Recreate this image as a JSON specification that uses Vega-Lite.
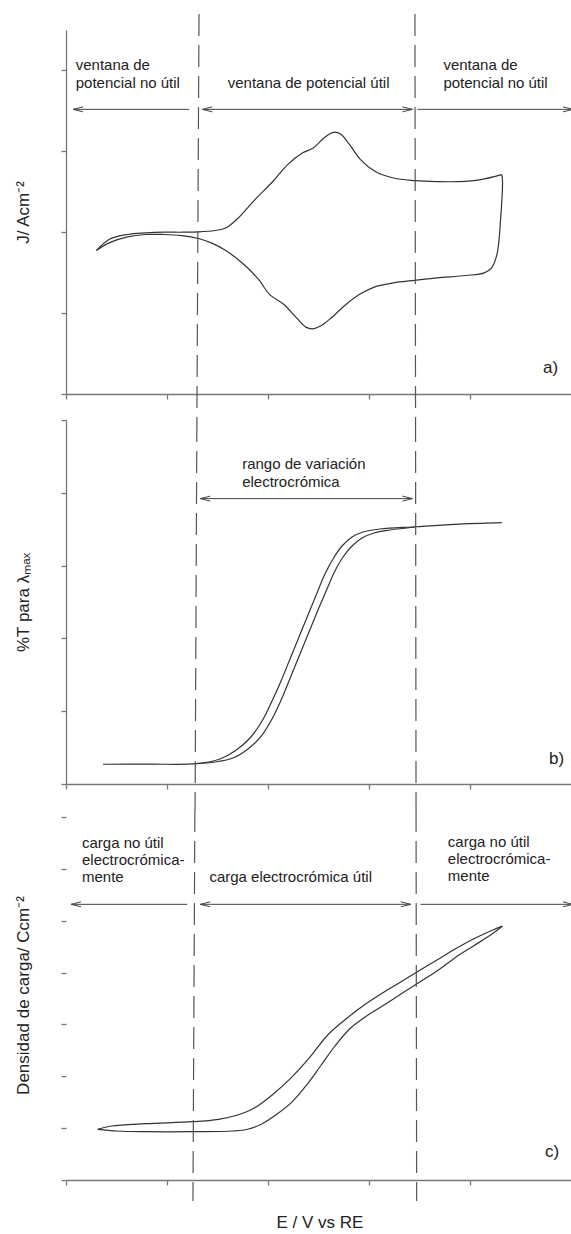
{
  "$schema": "https://vega.github.io/schema/vega-lite/v6.json",
  "padding": {"left": 14, "top": 13, "right": 0, "bottom": 0},
  "bounds": "flush",
  "spacing": 26,
  "config": {
    "view": {"stroke": null},
    "font": "Liberation Sans",
    "axis": {"labels": false, "grid": false, "tickSize": 5, "tickColor": "#777", "domainColor": "#777", "domainWidth": 1.3, "tickWidth": 1.3, "titleFont": "Liberation Sans", "titleFontSize": 17, "titleFontWeight": "normal", "titleColor": "#222"}
  },
  "datasets": {
    "curveA": [
      {"s":"u","o":1,"x":0.302,"y":1.774},{"s":"u","o":2,"x":0.426,"y":1.910},{"s":"u","o":3,"x":0.609,"y":1.972},{"s":"u","o":4,"x":0.789,"y":1.991},{"s":"u","o":5,"x":0.969,"y":2.000},{"s":"u","o":6,"x":1.149,"y":2.000},{"s":"u","o":7,"x":1.312,"y":2.004},{"s":"u","o":8,"x":1.474,"y":2.021},{"s":"u","o":9,"x":1.582,"y":2.053},{"s":"u","o":10,"x":1.690,"y":2.157},{"s":"u","o":11,"x":1.871,"y":2.404},{"s":"u","o":12,"x":2.050,"y":2.630},{"s":"u","o":13,"x":2.195,"y":2.836},{"s":"u","o":14,"x":2.340,"y":2.979},{"s":"u","o":15,"x":2.448,"y":3.041},{"s":"u","o":16,"x":2.554,"y":3.164},{"s":"u","o":17,"x":2.646,"y":3.235},{"s":"u","o":18,"x":2.718,"y":3.214},{"s":"u","o":19,"x":2.808,"y":3.083},{"s":"u","o":20,"x":2.916,"y":2.898},{"s":"u","o":21,"x":3.059,"y":2.753},{"s":"u","o":22,"x":3.241,"y":2.670},{"s":"u","o":23,"x":3.455,"y":2.638},{"s":"u","o":24,"x":3.673,"y":2.626},{"s":"u","o":25,"x":3.889,"y":2.626},{"s":"u","o":26,"x":4.106,"y":2.651},{"s":"u","o":27,"x":4.315,"y":2.712},
      {"s":"d","o":1,"x":4.315,"y":2.712},{"s":"d","o":2,"x":4.322,"y":2.630},{"s":"d","o":3,"x":4.304,"y":2.177},{"s":"d","o":4,"x":4.267,"y":1.725},{"s":"d","o":5,"x":4.214,"y":1.559},{"s":"d","o":6,"x":4.142,"y":1.498},{"s":"d","o":7,"x":3.960,"y":1.465},{"s":"d","o":8,"x":3.673,"y":1.436},{"s":"d","o":9,"x":3.455,"y":1.404},{"s":"d","o":10,"x":3.241,"y":1.374},{"s":"d","o":11,"x":3.059,"y":1.325},{"s":"d","o":12,"x":2.916,"y":1.238},{"s":"d","o":13,"x":2.772,"y":1.107},{"s":"d","o":14,"x":2.628,"y":0.942},{"s":"d","o":15,"x":2.520,"y":0.840},{"s":"d","o":16,"x":2.441,"y":0.806},{"s":"d","o":17,"x":2.375,"y":0.827},{"s":"d","o":18,"x":2.267,"y":0.963},{"s":"d","o":19,"x":2.158,"y":1.107},{"s":"d","o":20,"x":2.015,"y":1.231},{"s":"d","o":21,"x":1.907,"y":1.416},{"s":"d","o":22,"x":1.762,"y":1.601},{"s":"d","o":23,"x":1.582,"y":1.774},{"s":"d","o":24,"x":1.438,"y":1.868},{"s":"d","o":25,"x":1.312,"y":1.922},{"s":"d","o":26,"x":1.149,"y":1.959},{"s":"d","o":27,"x":0.969,"y":1.972},{"s":"d","o":28,"x":0.789,"y":1.972},{"s":"d","o":29,"x":0.609,"y":1.942},{"s":"d","o":30,"x":0.426,"y":1.868},{"s":"d","o":31,"x":0.302,"y":1.774}
    ],
    "curveB": [
      {"s":"L","o":1,"x":0.366,"y":0.271},{"s":"L","o":2,"x":0.832,"y":0.273},{"s":"L","o":3,"x":1.293,"y":0.279},{"s":"L","o":4,"x":1.525,"y":0.343},{"s":"L","o":5,"x":1.673,"y":0.453},{"s":"L","o":6,"x":1.822,"y":0.632},{"s":"L","o":7,"x":1.941,"y":0.865},{"s":"L","o":8,"x":2.040,"y":1.140},{"s":"L","o":9,"x":2.129,"y":1.415},{"s":"L","o":10,"x":2.218,"y":1.717},{"s":"L","o":11,"x":2.307,"y":2.019},{"s":"L","o":12,"x":2.396,"y":2.321},{"s":"L","o":13,"x":2.485,"y":2.624},{"s":"L","o":14,"x":2.564,"y":2.885},{"s":"L","o":15,"x":2.644,"y":3.091},{"s":"L","o":16,"x":2.733,"y":3.269},{"s":"L","o":17,"x":2.832,"y":3.393},{"s":"L","o":18,"x":2.941,"y":3.462},{"s":"L","o":19,"x":3.109,"y":3.503},{"s":"L","o":20,"x":3.455,"y":3.534},{"s":"L","o":21,"x":3.851,"y":3.567},{"s":"L","o":22,"x":4.315,"y":3.589},
      {"s":"R","o":1,"x":1.293,"y":0.279},{"s":"R","o":2,"x":1.475,"y":0.302},{"s":"R","o":3,"x":1.653,"y":0.357},{"s":"R","o":4,"x":1.802,"y":0.481},{"s":"R","o":5,"x":1.941,"y":0.673},{"s":"R","o":6,"x":2.050,"y":0.920},{"s":"R","o":7,"x":2.139,"y":1.181},{"s":"R","o":8,"x":2.228,"y":1.484},{"s":"R","o":9,"x":2.317,"y":1.786},{"s":"R","o":10,"x":2.406,"y":2.088},{"s":"R","o":11,"x":2.495,"y":2.390},{"s":"R","o":12,"x":2.584,"y":2.679},{"s":"R","o":13,"x":2.663,"y":2.926},{"s":"R","o":14,"x":2.743,"y":3.118},{"s":"R","o":15,"x":2.832,"y":3.269},{"s":"R","o":16,"x":2.931,"y":3.379},{"s":"R","o":17,"x":3.050,"y":3.448},{"s":"R","o":18,"x":3.208,"y":3.489},{"s":"R","o":19,"x":3.455,"y":3.530}
    ],
    "curveC": [
      {"s":"u","o":1,"x":0.314,"y":0.978},{"s":"u","o":2,"x":0.452,"y":1.041},{"s":"u","o":3,"x":0.789,"y":1.086},{"s":"u","o":4,"x":1.257,"y":1.124},{"s":"u","o":5,"x":1.510,"y":1.170},{"s":"u","o":6,"x":1.690,"y":1.248},{"s":"u","o":7,"x":1.870,"y":1.394},{"s":"u","o":8,"x":2.050,"y":1.653},{"s":"u","o":9,"x":2.231,"y":1.973},{"s":"u","o":10,"x":2.411,"y":2.358},{"s":"u","o":11,"x":2.591,"y":2.796},{"s":"u","o":12,"x":2.772,"y":3.105},{"s":"u","o":13,"x":2.952,"y":3.374},{"s":"u","o":14,"x":3.133,"y":3.606},{"s":"u","o":15,"x":3.313,"y":3.818},{"s":"u","o":16,"x":3.475,"y":4.011},{"s":"u","o":17,"x":3.673,"y":4.242},{"s":"u","o":18,"x":3.853,"y":4.454},{"s":"u","o":19,"x":4.034,"y":4.647},{"s":"u","o":20,"x":4.214,"y":4.811},{"s":"u","o":21,"x":4.320,"y":4.895},
      {"s":"d","o":1,"x":4.320,"y":4.895},{"s":"d","o":2,"x":4.214,"y":4.738},{"s":"d","o":3,"x":4.034,"y":4.512},{"s":"d","o":4,"x":3.853,"y":4.287},{"s":"d","o":5,"x":3.673,"y":4.030},{"s":"d","o":6,"x":3.475,"y":3.785},{"s":"d","o":7,"x":3.313,"y":3.581},{"s":"d","o":8,"x":3.133,"y":3.355},{"s":"d","o":9,"x":2.952,"y":3.130},{"s":"d","o":10,"x":2.808,"y":2.912},{"s":"d","o":11,"x":2.663,"y":2.584},{"s":"d","o":12,"x":2.520,"y":2.198},{"s":"d","o":13,"x":2.375,"y":1.813},{"s":"d","o":14,"x":2.231,"y":1.491},{"s":"d","o":15,"x":2.087,"y":1.267},{"s":"d","o":16,"x":1.943,"y":1.086},{"s":"d","o":17,"x":1.798,"y":0.978},{"s":"d","o":18,"x":1.654,"y":0.945},{"s":"d","o":19,"x":1.257,"y":0.931},{"s":"d","o":20,"x":0.789,"y":0.931},{"s":"d","o":21,"x":0.502,"y":0.945},{"s":"d","o":22,"x":0.314,"y":0.978}
    ],
    "dashes": [
      {"p":"a","x1":1.317,"x2":1.296,"y1":4.698,"y2":-0.321},
      {"p":"a","x1":3.455,"x2":3.461,"y1":4.698,"y2":-0.321},
      {"p":"b","x1":1.296,"x2":1.278,"y1":5,"y2":-0.357},
      {"p":"b","x1":3.461,"x2":3.466,"y1":5,"y2":-0.357},
      {"p":"c","x1":1.276,"x2":1.257,"y1":7.135,"y2":-0.405},
      {"p":"c","x1":3.466,"x2":3.472,"y1":7.135,"y2":-0.405}
    ],
    "arrows": [
      {"p":"a","x1":0.07,"x2":1.22,"y":3.519,"l":true,"r":false},
      {"p":"a","x1":1.35,"x2":3.43,"y":3.519,"l":true,"r":true},
      {"p":"a","x1":3.48,"x2":5.02,"y":3.519,"l":false,"r":true},
      {"p":"b","x1":1.33,"x2":3.43,"y":3.92,"l":true,"r":true},
      {"p":"c","x1":0.05,"x2":1.20,"y":5.316,"l":true,"r":false},
      {"p":"c","x1":1.33,"x2":3.414,"y":5.316,"l":true,"r":true},
      {"p":"c","x1":3.51,"x2":5.02,"y":5.316,"l":false,"r":true}
    ],
    "texts": [
      {"p":"a","x":0.096,"y":4.062,"t":"ventana de\npotencial no útil"},
      {"p":"a","x":1.601,"y":3.843,"t":"ventana de potencial útil"},
      {"p":"a","x":3.737,"y":4.062,"t":"ventana de\npotencial no útil"},
      {"p":"b","x":1.744,"y":4.391,"t":"rango de variación\nelectrocrómica"},
      {"p":"c","x":0.158,"y":6.50,"t":"carga no útil\nelectrocrómica-\nmente"},
      {"p":"c","x":1.420,"y":5.843,"t":"carga electrocrómica útil"},
      {"p":"c","x":3.781,"y":6.52,"t":"carga no útil\nelectrocrómica-\nmente"}
    ],
    "labels": [
      {"p":"a","x":4.723,"y":0.32,"t":"a)"},
      {"p":"b","x":4.782,"y":0.343,"t":"b)"},
      {"p":"c","x":4.743,"y":0.54,"t":"c)"}
    ]
  },
  "vconcat": [
    {
      "width": 507, "height": 364,
      "layer": [
        {"data": {"name": "curveA"}, "mark": {"type": "line", "interpolate": "catmull-rom", "color": "#333", "strokeWidth": 1.2},
         "encoding": {"x": {"field": "x", "type": "quantitative", "scale": {"domain": [0, 5.02], "nice": false, "zero": false}, "axis": {"title": null, "values": [0, 1, 2, 3, 4]}},
                      "y": {"field": "y", "type": "quantitative", "scale": {"domain": [0, 4.5], "nice": false, "zero": false}, "axis": {"title": "J/ Acm⁻²", "values": [0, 1, 2, 3, 4], "titlePadding": 28}},
                      "detail": {"field": "s"}, "order": {"field": "o", "type": "quantitative"}}},
        {"mark": {"type": "rule", "color": "#777", "strokeWidth": 1.3}, "encoding": {"y": {"datum": 4.5}}},
        {"data": {"name": "dashes"}, "transform": [{"filter": "datum.p == 'a'"}], "mark": {"type": "rule", "strokeDash": [22, 9], "color": "#555", "strokeWidth": 1.2},
         "encoding": {"x": {"field": "x1", "type": "quantitative"}, "x2": {"field": "x2"}, "y": {"field": "y1", "type": "quantitative"}, "y2": {"field": "y2"}}},
        {"data": {"name": "arrows"}, "transform": [{"filter": "datum.p == 'a'"}], "mark": {"type": "rule", "color": "#444", "strokeWidth": 1},
         "encoding": {"x": {"field": "x1", "type": "quantitative"}, "x2": {"field": "x2"}, "y": {"field": "y", "type": "quantitative"}}},
        {"data": {"name": "arrows"}, "transform": [{"filter": "datum.p == 'a' && datum.l"}], "mark": {"type": "point", "shape": "M0,0L2,-0.5M0,0L2,0.5", "size": 100, "filled": false, "color": "#444", "strokeWidth": 1, "opacity": 1},
         "encoding": {"x": {"field": "x1", "type": "quantitative"}, "y": {"field": "y", "type": "quantitative"}}},
        {"data": {"name": "arrows"}, "transform": [{"filter": "datum.p == 'a' && datum.r"}], "mark": {"type": "point", "shape": "M0,0L-2,-0.5M0,0L-2,0.5", "size": 100, "filled": false, "color": "#444", "strokeWidth": 1, "opacity": 1},
         "encoding": {"x": {"field": "x2", "type": "quantitative"}, "y": {"field": "y", "type": "quantitative"}}},
        {"data": {"name": "texts"}, "transform": [{"filter": "datum.p == 'a'"}], "mark": {"type": "text", "lineBreak": "\n", "fontSize": 15, "lineHeight": 17.5, "align": "left", "baseline": "middle", "color": "#222"},
         "encoding": {"x": {"field": "x", "type": "quantitative"}, "y": {"field": "y", "type": "quantitative"}, "text": {"field": "t"}}},
        {"data": {"name": "labels"}, "transform": [{"filter": "datum.p == 'a'"}], "mark": {"type": "text", "fontSize": 17, "align": "left", "baseline": "middle", "color": "#222"},
         "encoding": {"x": {"field": "x", "type": "quantitative"}, "y": {"field": "y", "type": "quantitative"}, "text": {"field": "t"}}}
      ]
    },
    {
      "width": 507, "height": 364,
      "layer": [
        {"data": {"name": "curveB"}, "mark": {"type": "line", "interpolate": "catmull-rom", "color": "#333", "strokeWidth": 1.2},
         "encoding": {"x": {"field": "x", "type": "quantitative", "scale": {"domain": [0, 5.02], "nice": false, "zero": false}, "axis": {"title": null, "values": [0, 1, 2, 3, 4]}},
                      "y": {"field": "y", "type": "quantitative", "scale": {"domain": [0, 5], "nice": false, "zero": false}, "axis": {"title": "%T para λₘₐₓ", "values": [0, 1, 2, 3, 4, 5], "titlePadding": 28}},
                      "detail": {"field": "s"}, "order": {"field": "o", "type": "quantitative"}}},
        {"mark": {"type": "rule", "color": "#777", "strokeWidth": 1.3}, "encoding": {"y": {"datum": 5}}},
        {"data": {"name": "dashes"}, "transform": [{"filter": "datum.p == 'b'"}], "mark": {"type": "rule", "strokeDash": [22, 9], "color": "#555", "strokeWidth": 1.2},
         "encoding": {"x": {"field": "x1", "type": "quantitative"}, "x2": {"field": "x2"}, "y": {"field": "y1", "type": "quantitative"}, "y2": {"field": "y2"}}},
        {"data": {"name": "arrows"}, "transform": [{"filter": "datum.p == 'b'"}], "mark": {"type": "rule", "color": "#444", "strokeWidth": 1},
         "encoding": {"x": {"field": "x1", "type": "quantitative"}, "x2": {"field": "x2"}, "y": {"field": "y", "type": "quantitative"}}},
        {"data": {"name": "arrows"}, "transform": [{"filter": "datum.p == 'b' && datum.l"}], "mark": {"type": "point", "shape": "M0,0L2,-0.5M0,0L2,0.5", "size": 100, "filled": false, "color": "#444", "strokeWidth": 1, "opacity": 1},
         "encoding": {"x": {"field": "x1", "type": "quantitative"}, "y": {"field": "y", "type": "quantitative"}}},
        {"data": {"name": "arrows"}, "transform": [{"filter": "datum.p == 'b' && datum.r"}], "mark": {"type": "point", "shape": "M0,0L-2,-0.5M0,0L-2,0.5", "size": 100, "filled": false, "color": "#444", "strokeWidth": 1, "opacity": 1},
         "encoding": {"x": {"field": "x2", "type": "quantitative"}, "y": {"field": "y", "type": "quantitative"}}},
        {"data": {"name": "texts"}, "transform": [{"filter": "datum.p == 'b'"}], "mark": {"type": "text", "lineBreak": "\n", "fontSize": 15, "lineHeight": 17.5, "align": "left", "baseline": "middle", "color": "#222"},
         "encoding": {"x": {"field": "x", "type": "quantitative"}, "y": {"field": "y", "type": "quantitative"}, "text": {"field": "t"}}},
        {"data": {"name": "labels"}, "transform": [{"filter": "datum.p == 'b'"}], "mark": {"type": "text", "fontSize": 17, "align": "left", "baseline": "middle", "color": "#222"},
         "encoding": {"x": {"field": "x", "type": "quantitative"}, "y": {"field": "y", "type": "quantitative"}, "text": {"field": "t"}}}
      ]
    },
    {
      "width": 507, "height": 370,
      "layer": [
        {"data": {"name": "curveC"}, "mark": {"type": "line", "interpolate": "catmull-rom", "color": "#333", "strokeWidth": 1.2},
         "encoding": {"x": {"field": "x", "type": "quantitative", "scale": {"domain": [0, 5.02], "nice": false, "zero": false}, "axis": {"title": "E / V vs RE", "values": [0, 1, 2, 3, 4], "titlePadding": 29}},
                      "y": {"field": "y", "type": "quantitative", "scale": {"domain": [0, 7.135], "nice": false, "zero": false}, "axis": {"title": "Densidad de carga/ Ccm⁻²", "values": [0, 1, 2, 3, 4, 5, 6, 7], "titlePadding": 28, "domain": false}},
                      "detail": {"field": "s"}, "order": {"field": "o", "type": "quantitative"}}},
        {"mark": {"type": "rule", "color": "#777", "strokeWidth": 1.3}, "encoding": {"y": {"datum": 7}}},
        {"mark": {"type": "rule", "color": "#777", "strokeWidth": 1.3}, "encoding": {"x": {"datum": 0}, "y": {"datum": 0}, "y2": {"datum": 7}}},
        {"data": {"name": "dashes"}, "transform": [{"filter": "datum.p == 'c'"}], "mark": {"type": "rule", "strokeDash": [22, 9], "color": "#555", "strokeWidth": 1.2},
         "encoding": {"x": {"field": "x1", "type": "quantitative"}, "x2": {"field": "x2"}, "y": {"field": "y1", "type": "quantitative"}, "y2": {"field": "y2"}}},
        {"data": {"name": "arrows"}, "transform": [{"filter": "datum.p == 'c'"}], "mark": {"type": "rule", "color": "#444", "strokeWidth": 1},
         "encoding": {"x": {"field": "x1", "type": "quantitative"}, "x2": {"field": "x2"}, "y": {"field": "y", "type": "quantitative"}}},
        {"data": {"name": "arrows"}, "transform": [{"filter": "datum.p == 'c' && datum.l"}], "mark": {"type": "point", "shape": "M0,0L2,-0.5M0,0L2,0.5", "size": 100, "filled": false, "color": "#444", "strokeWidth": 1, "opacity": 1},
         "encoding": {"x": {"field": "x1", "type": "quantitative"}, "y": {"field": "y", "type": "quantitative"}}},
        {"data": {"name": "arrows"}, "transform": [{"filter": "datum.p == 'c' && datum.r"}], "mark": {"type": "point", "shape": "M0,0L-2,-0.5M0,0L-2,0.5", "size": 100, "filled": false, "color": "#444", "strokeWidth": 1, "opacity": 1},
         "encoding": {"x": {"field": "x2", "type": "quantitative"}, "y": {"field": "y", "type": "quantitative"}}},
        {"data": {"name": "texts"}, "transform": [{"filter": "datum.p == 'c'"}], "mark": {"type": "text", "lineBreak": "\n", "fontSize": 15, "lineHeight": 17, "align": "left", "baseline": "middle", "color": "#222"},
         "encoding": {"x": {"field": "x", "type": "quantitative"}, "y": {"field": "y", "type": "quantitative"}, "text": {"field": "t"}}},
        {"data": {"name": "labels"}, "transform": [{"filter": "datum.p == 'c'"}], "mark": {"type": "text", "fontSize": 17, "align": "left", "baseline": "middle", "color": "#222"},
         "encoding": {"x": {"field": "x", "type": "quantitative"}, "y": {"field": "y", "type": "quantitative"}, "text": {"field": "t"}}}
      ]
    }
  ]
}
